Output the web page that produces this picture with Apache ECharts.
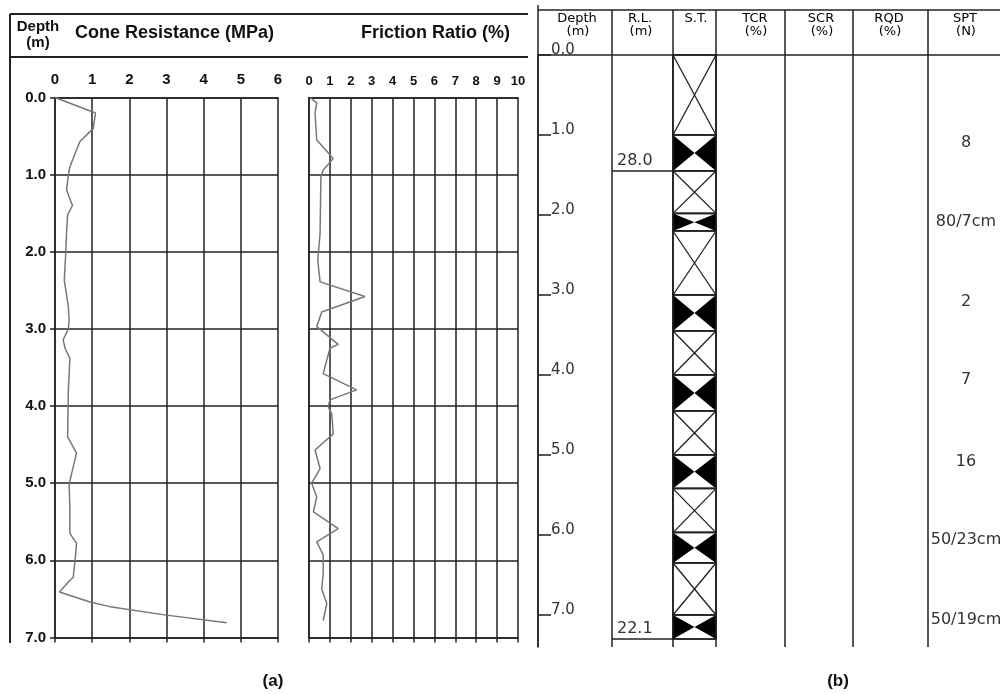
<!DOCTYPE html>
<html>
<head>
<meta charset="utf-8">
<title>CPT and borehole log</title>
<script src="https://cdn.jsdelivr.net/npm/echarts@6/dist/echarts.min.js"></script>
<style>
  html, body { margin: 0; padding: 0; background: #fff; }
  #chart { width: 1000px; height: 694px; }
</style>
</head>
<body>
<div id="chart"></div>
<script>
// (a) cone penetration test
const coneDepth = [0.0, 0.2, 0.4, 0.57, 0.9, 1.0, 1.2, 1.4, 1.52, 1.76, 2.0, 2.37, 2.71, 2.89, 3.0, 3.14, 3.25, 3.38, 3.79, 4.4, 4.61, 4.87, 5.01, 5.31, 5.65, 5.78, 6.0, 6.22, 6.28, 6.41, 6.54, 6.6, 6.71, 6.81];
const coneValue = [0.0, 1.09, 1.03, 0.67, 0.4, 0.36, 0.31, 0.47, 0.34, 0.31, 0.29, 0.25, 0.36, 0.38, 0.36, 0.22, 0.27, 0.4, 0.36, 0.34, 0.58, 0.45, 0.38, 0.4, 0.4, 0.58, 0.54, 0.49, 0.36, 0.12, 0.94, 1.48, 3.0, 4.62];
const frictionDepth = [0.0, 0.07, 0.2, 0.55, 0.79, 0.94, 1.03, 1.76, 2.11, 2.39, 2.58, 2.78, 2.97, 3.2, 3.25, 3.58, 3.79, 3.92, 4.01, 4.1, 4.36, 4.57, 4.81, 5.0, 5.18, 5.37, 5.59, 5.76, 5.93, 6.17, 6.37, 6.56, 6.78];
const frictionValue = [0.05, 0.37, 0.29, 0.37, 1.16, 0.68, 0.57, 0.53, 0.42, 0.53, 2.68, 0.61, 0.37, 1.4, 1.0, 0.68, 2.28, 1.0, 0.92, 1.09, 1.16, 0.29, 0.53, 0.13, 0.37, 0.21, 1.4, 0.37, 0.68, 0.68, 0.61, 0.85, 0.68];

// (b) borehole log
const depthTicks = [0, 1, 2, 3, 4, 5, 6, 7];
const sampleTop = [0.0, 1.0, 1.45, 1.98, 2.2, 3.0, 3.45, 4.0, 4.45, 5.0, 5.42, 5.97, 6.35, 7.0];
const sampleBottom = [1.0, 1.45, 1.98, 2.2, 3.0, 3.45, 4.0, 4.45, 5.0, 5.42, 5.97, 6.35, 7.0, 7.3];
const sampleType = ['X', 'SPT', 'X', 'SPT', 'X', 'SPT', 'X', 'SPT', 'X', 'SPT', 'X', 'SPT', 'X', 'SPT'];
const rlDepth = [1.45, 7.3];
const rlValue = [28.0, 22.1];
const sptDepth = [1.1, 2.09, 3.09, 4.06, 5.09, 6.06, 7.06];
const sptText = ['8', '80/7cm', '2', '7', '16', '50/23cm', '50/19cm'];
const logHeaders = [['Depth', '(m)'], ['R.L.', '(m)'], ['S.T.', ''], ['TCR', '(%)'], ['SCR', '(%)'], ['RQD', '(%)'], ['SPT', '(N)']];

// layout (pixels)
const headerCenters = [577, 640, 696, 755, 821, 889, 965];
const columnLines = [612, 673, 716, 785, 853, 928];
const logLeft = 538;
const rlColumn = [612 - logLeft, 673 - logLeft];
const stColumn = [673 - logLeft, 716 - logLeft];
const sptCenter = 966 - logLeft;

const ink = '#222';
const boldFont = 'Liberation Sans, Arial, sans-serif';
const logFont = 'DejaVu Sans, sans-serif';

const myChart = echarts.init(document.getElementById('chart'), null, { renderer: 'canvas' });

function line(x1, y1, x2, y2, w) {
  return { type: 'line', shape: { x1: x1, y1: y1, x2: x2, y2: y2 }, style: { stroke: ink, lineWidth: w || 1.5 }, silent: true };
}
function label(text, x, y, size, align, font, weight, color) {
  return {
    type: 'text', x: x, y: y, silent: true,
    style: { text: text, fontSize: size, fontFamily: font || boldFont, fontWeight: weight || 'bold', fill: color || '#111', align: align || 'center', verticalAlign: 'middle' }
  };
}

const graphics = [
  // frame (a)
  line(10, 14, 528, 14, 2), line(10, 57, 528, 57, 2), line(10, 14, 10, 643, 2),
  label('Depth', 38, 27, 15), label('(m)', 38, 43, 15),
  label('Cone Resistance (MPa)', 75, 33, 18, 'left'),
  label('Friction Ratio (%)', 510, 33, 18, 'right'),
  label('(a)', 273, 681, 17), label('(b)', 838, 681, 17),
  // frame (b)
  line(logLeft, 5, logLeft, 647), line(logLeft, 10, 1000, 10), line(logLeft, 55, 1000, 55)
];
columnLines.forEach(function (x) { graphics.push(line(x, 10, x, 647)); });
logHeaders.forEach(function (h, i) {
  graphics.push(label(h[0], headerCenters[i], 19, 13, 'center', logFont, 'normal', '#000'));
  if (h[1]) graphics.push(label(h[1], headerCenters[i] + 1, 32, 13, 'center', logFont, 'normal', '#000'));
});

function xAxisTop(grid, max, size) {
  return {
    type: 'value', gridIndex: grid, position: 'top', min: 0, max: max, interval: 1,
    axisLine: { show: true, lineStyle: { color: ink, width: 1.5 } },
    axisTick: { show: false },
    axisLabel: { fontSize: size, fontWeight: 'bold', fontFamily: boldFont, color: '#111', margin: 10 },
    splitLine: { show: true, lineStyle: { color: ink, width: 1.5 } }
  };
}
function xAxisBottom(grid, max) {
  return {
    type: 'value', gridIndex: grid, position: 'bottom', min: 0, max: max, interval: 1,
    axisLine: { show: true, lineStyle: { color: ink, width: 1.5 } },
    axisTick: { show: true, length: 5, lineStyle: { color: ink, width: 1.5 } },
    axisLabel: { show: false }, splitLine: { show: false }
  };
}

myChart.setOption({
  animation: false,
  backgroundColor: '#fff',
  grid: [
    { left: 55, top: 97.5, width: 223, height: 540 },
    { left: 309, top: 97.5, width: 209, height: 540 },
    { left: logLeft, top: 55, width: 1000 - logLeft, height: 592 }
  ],
  xAxis: [
    xAxisTop(0, 6, 15), xAxisBottom(0, 6),
    xAxisTop(1, 10, 13), xAxisBottom(1, 10),
    { type: 'value', gridIndex: 2, min: 0, max: 1000 - logLeft, show: false }
  ],
  yAxis: [
    {
      type: 'value', gridIndex: 0, inverse: true, min: 0, max: 7, interval: 1,
      axisLine: { show: true, lineStyle: { color: ink, width: 1.5 } },
      axisTick: { show: true, length: 5, lineStyle: { color: ink, width: 1.5 } },
      axisLabel: { fontSize: 15, fontWeight: 'bold', fontFamily: boldFont, color: '#111', margin: 9, formatter: function (v) { return v.toFixed(1); } },
      splitLine: { show: true, lineStyle: { color: ink, width: 1.5 } }
    },
    {
      type: 'value', gridIndex: 1, inverse: true, min: 0, max: 7, interval: 1,
      axisLine: { show: true, lineStyle: { color: ink, width: 1.5 } },
      axisTick: { show: false }, axisLabel: { show: false },
      splitLine: { show: true, lineStyle: { color: ink, width: 1.5 } }
    },
    {
      type: 'value', gridIndex: 2, inverse: true, min: 0, max: 7.4,
      axisLine: { show: true, lineStyle: { color: ink, width: 1.5 } },
      axisTick: { show: true, inside: true, length: 13, customValues: depthTicks, lineStyle: { color: ink, width: 1.5 } },
      axisLabel: {
        inside: true, margin: 13, customValues: depthTicks, align: 'left', verticalAlign: 'bottom', lineHeight: 10,
        fontSize: 15, fontFamily: logFont, color: '#333', formatter: function (v) { return v.toFixed(1); }
      },
      splitLine: { show: false }
    }
  ],
  series: [
    {
      name: 'Cone Resistance', type: 'line', xAxisIndex: 0, yAxisIndex: 0, showSymbol: false,
      lineStyle: { color: '#777', width: 1.5 },
      data: coneDepth.map(function (d, i) { return [coneValue[i], d]; })
    },
    {
      name: 'Friction Ratio', type: 'line', xAxisIndex: 2, yAxisIndex: 1, showSymbol: false,
      lineStyle: { color: '#777', width: 1.5 },
      data: frictionDepth.map(function (d, i) { return [frictionValue[i], d]; })
    },
    {
      name: 'S.T.', type: 'custom', xAxisIndex: 4, yAxisIndex: 2,
      data: sampleTop.map(function (t, i) { return [t, sampleBottom[i], sampleType[i] === 'SPT' ? 1 : 0]; }),
      encode: { y: [0, 1] },
      renderItem: function (params, api) {
        const x1 = api.coord([stColumn[0], 0])[0];
        const x2 = api.coord([stColumn[1], 0])[0];
        const y1 = api.coord([0, api.value(0)])[1];
        const y2 = api.coord([0, api.value(1)])[1];
        const xm = (x1 + x2) / 2, ym = (y1 + y2) / 2;
        const children = [{ type: 'rect', shape: { x: x1, y: y1, width: x2 - x1, height: y2 - y1 }, style: { fill: '#fff', stroke: ink, lineWidth: 1.5 } }];
        if (api.value(2) === 1) {
          children.push({ type: 'polygon', shape: { points: [[x1, y1], [xm, ym], [x1, y2]] }, style: { fill: '#000' } });
          children.push({ type: 'polygon', shape: { points: [[x2, y1], [xm, ym], [x2, y2]] }, style: { fill: '#000' } });
        } else {
          children.push({ type: 'line', shape: { x1: x1, y1: y1, x2: x2, y2: y2 }, style: { stroke: ink, lineWidth: 1.3 } });
          children.push({ type: 'line', shape: { x1: x2, y1: y1, x2: x1, y2: y2 }, style: { stroke: ink, lineWidth: 1.3 } });
        }
        children.push({ type: 'rect', shape: { x: x1, y: y1, width: x2 - x1, height: y2 - y1 }, style: { fill: 'none', stroke: ink, lineWidth: 1.5 } });
        return { type: 'group', children: children };
      }
    },
    {
      name: 'R.L.', type: 'custom', xAxisIndex: 4, yAxisIndex: 2,
      data: rlDepth.map(function (d, i) { return [d, rlValue[i]]; }),
      encode: { y: 0 },
      renderItem: function (params, api) {
        const xa = api.coord([rlColumn[0], 0])[0];
        const xb = api.coord([rlColumn[1], 0])[0];
        const y = api.coord([0, api.value(0)])[1];
        return {
          type: 'group', children: [
            { type: 'line', shape: { x1: xa, y1: y, x2: xb, y2: y }, style: { stroke: ink, lineWidth: 1.5 } },
            { type: 'text', x: xa + 5, y: y - 2, style: { text: api.value(1).toFixed(1), fontSize: 16, fontFamily: logFont, fill: '#333', align: 'left', verticalAlign: 'bottom' } }
          ]
        };
      }
    },
    {
      name: 'SPT', type: 'custom', xAxisIndex: 4, yAxisIndex: 2,
      data: sptDepth.map(function (d, i) { return [d, i]; }),
      encode: { y: 0 },
      renderItem: function (params, api) {
        const p = api.coord([sptCenter, api.value(0)]);
        return { type: 'text', x: p[0], y: p[1], style: { text: sptText[params.dataIndex], fontSize: 16, fontFamily: logFont, fill: '#333', align: 'center', verticalAlign: 'middle' } };
      }
    }
  ],
  graphic: graphics
});
</script>
</body>
</html>
